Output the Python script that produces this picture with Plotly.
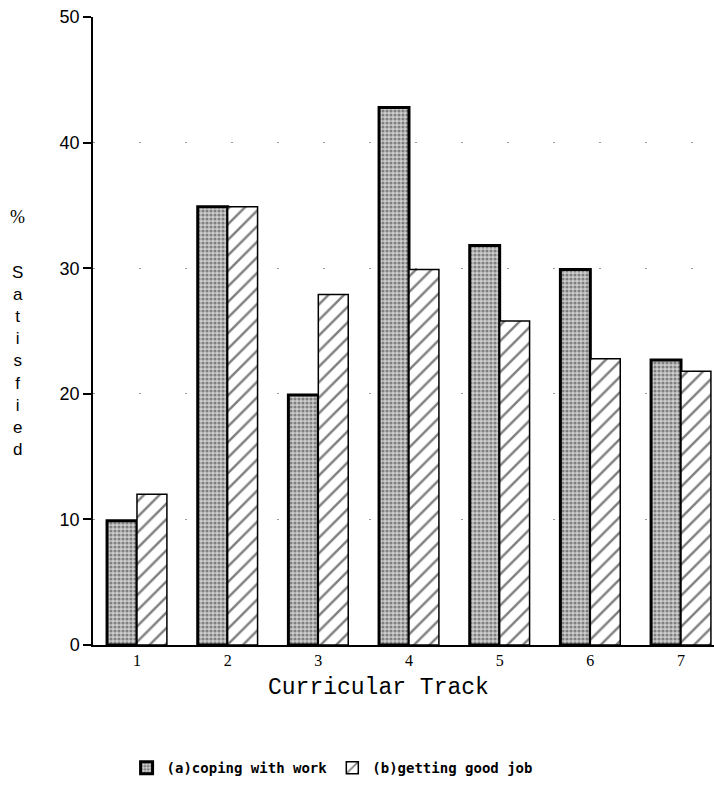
import plotly.graph_objects as go

# Curricular tracks and percentage satisfied for each aspect
tracks = [1, 2, 3, 4, 5, 6, 7]
track_labels = ["1", "2", "3", "4", "5", "6", "7"]
coping_with_work = [9.9, 34.9, 19.9, 42.8, 31.8, 29.9, 22.7]
getting_good_job = [12.0, 34.9, 27.9, 29.9, 25.8, 22.8, 21.8]
y_ticks = [0, 10, 20, 30, 40, 50]

fig = go.Figure()

fig.add_trace(go.Bar(
    x=tracks, y=coping_with_work, name="(a)coping with work",
    marker=dict(
        color="#bdbdbd",
        line=dict(color="black", width=3),
        pattern=dict(shape=".", fgcolor="#333333", bgcolor="#cdcdcd",
                     size=4, solidity=0.5),
    ),
))
fig.add_trace(go.Bar(
    x=tracks, y=getting_good_job, name="(b)getting good job",
    marker=dict(
        color="white",
        line=dict(color="black", width=1.5),
        pattern=dict(shape="/", fgcolor="black", bgcolor="white",
                     size=11, solidity=0.22),
    ),
))

fig.update_layout(
    width=714, height=798,
    margin=dict(l=93, r=0, t=17, b=153),
    paper_bgcolor="white", plot_bgcolor="white",
    barmode="group", bargap=0.34, bargroupgap=0,
    showlegend=True,
    legend=dict(
        orientation="h", x=0.385, xanchor="center", y=-0.196, yanchor="middle",
        font=dict(family="DejaVu Sans Mono", size=14, color="black", weight="bold"),
        itemwidth=30, traceorder="normal",
    ),
    font=dict(family="Liberation Sans", color="black"),
)

fig.update_xaxes(
    range=[0.515, 7.364],
    tickmode="array", tickvals=tracks, ticktext=track_labels,
    tickfont=dict(family="Liberation Serif", size=16, color="black"),
    ticks="", showline=True, linecolor="black", linewidth=1.5,
    showgrid=False, zeroline=False,
)
fig.update_yaxes(
    range=[0, 50],
    tickmode="array", tickvals=y_ticks,
    tickfont=dict(family="Liberation Sans", size=18, color="black"),
    ticks="outside", ticklen=8, tickwidth=1.5, tickcolor="black",
    showline=True, linecolor="black", linewidth=1.5,
    showgrid=True, gridcolor="#9a9a9a", gridwidth=1, griddash="2px,44px",
    zeroline=False,
)

# x-axis title
fig.add_annotation(
    text="Curricular Track", xref="paper", yref="paper",
    x=0.46, y=-0.0685, xanchor="center", yanchor="middle",
    showarrow=False, font=dict(family="Liberation Mono", size=23, color="black"),
)

# stacked y-axis title
fig.add_annotation(
    text="%", xref="paper", yref="paper",
    x=-0.121, y=(645 - 217) / 628, xanchor="center", yanchor="middle",
    showarrow=False, font=dict(family="Liberation Serif", size=18, color="black"),
)
fig.add_annotation(
    text="<br>".join(list("Satisfied")), xref="paper", yref="paper",
    x=-0.121, y=(645 - 361) / 628, xanchor="center", yanchor="middle",
    showarrow=False, font=dict(family="Liberation Sans", size=17, color="black"),
)

fig.write_html("out.html")
